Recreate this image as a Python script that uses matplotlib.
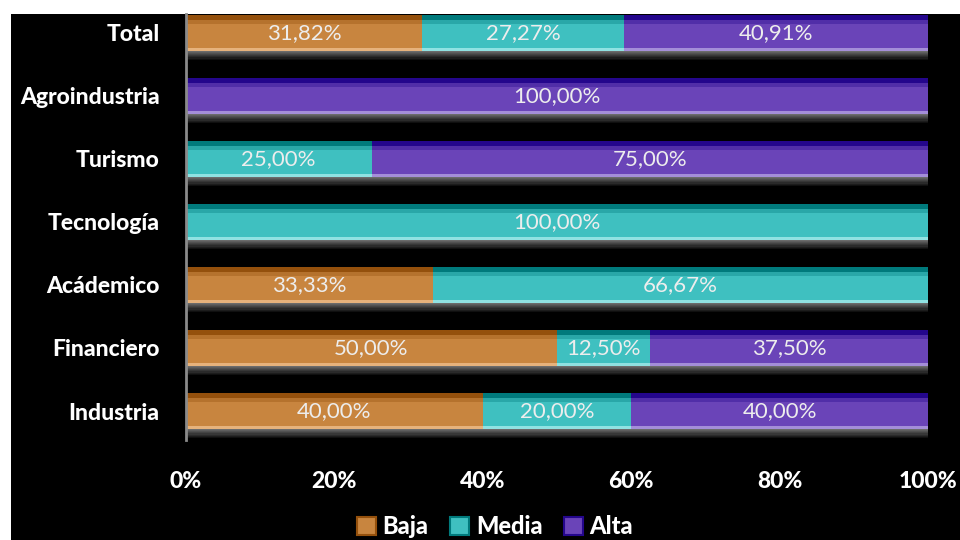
import matplotlib
matplotlib.use("Agg")
import matplotlib.pyplot as plt
from matplotlib.patches import Rectangle
import numpy as np

# Data: share (%) of each priority level per sector
categories = ["Industria", "Financiero", "Acádemico", "Tecnología", "Turismo", "Agroindustria", "Total"]
baja = [40.00, 50.00, 33.33, 0.0, 0.0, 0.0, 31.82]
media = [20.00, 12.50, 66.67, 100.00, 25.00, 0.0, 27.27]
alta = [40.00, 37.50, 0.0, 0.0, 75.00, 100.00, 40.91]
series_names = ["Baja", "Media", "Alta"]
tick_labels = ["0%", "20%", "40%", "60%", "80%", "100%"]

face = ["#C8853F", "#3FC0C0", "#6A44B8"]
top_dark = ["#94500C", "#007A7C", "#24068C"]
bottom_light = ["#E6B27C", "#90E2E2", "#A48ED8"]

plt.rcParams["font.family"] = ["Lato", "DejaVu Sans"]

W, H = 960, 540
fig = plt.figure(figsize=(W / 100, H / 100), dpi=100, facecolor="white")

# black chart area
bg = fig.add_axes([11 / W, 0, 1 - 11 / W, (H - 14) / H])
bg.set_facecolor("black")
bg.set_xticks([]); bg.set_yticks([])
for s in bg.spines.values():
    s.set_visible(False)

ax = fig.add_axes([186 / W, (H - 440) / H, (928 - 186) / W, 426 / H])
ax.set_facecolor("none")
ax.set_xlim(0, 100)
ax.set_ylim(-0.46, 6.30)

y = np.arange(len(categories))
bh = 0.57
series = [baja, media, alta]
lefts = np.zeros(len(categories))

# soft shadow under every row
totals = np.sum(series, axis=0)
shades = np.linspace(0.42, 0.06, 8)
for k, g in enumerate(shades):
    ax.barh(y - bh / 2 - 0.012 - k * 0.017, totals + 0.35, height=0.018, left=0,
            color=(g, g, g), zorder=1, linewidth=0)

for i, vals in enumerate(series):
    vals = np.array(vals)
    mask = vals > 0
    ax.barh(y[mask], vals[mask], left=lefts[mask], height=bh, color=face[i], zorder=2)
    # bevel: dark upper strip, light lower strip
    ax.barh(y[mask] + bh / 2 - 0.04, vals[mask], left=lefts[mask], height=0.08,
            color=top_dark[i], zorder=3, linewidth=0)
    ax.barh(y[mask] + bh / 2 - 0.11, vals[mask], left=lefts[mask], height=0.06,
            color=top_dark[i], alpha=0.35, zorder=3, linewidth=0)
    ax.barh(y[mask] - bh / 2 + 0.025, vals[mask], left=lefts[mask], height=0.05,
            color=bottom_light[i], zorder=3, linewidth=0)
    for yy, l, v in zip(y[mask], lefts[mask], vals[mask]):
        ax.text(l + v / 2, yy, f"{v:.2f}".replace(".", ",") + "%",
                ha="center", va="center", color="#EDEDED", fontsize=16, zorder=5)
    lefts = lefts + vals

ax.set_yticks(y)
ax.set_yticklabels(categories, color="white", fontsize=16.5, fontweight="black")
ax.set_xticks(np.linspace(0, 100, 6))
ax.set_xticklabels(tick_labels, color="white", fontsize=16.5, fontweight="black")
ax.tick_params(axis="both", length=0)
ax.tick_params(axis="y", pad=19)
ax.tick_params(axis="x", pad=22)
for side in ["top", "right", "bottom"]:
    ax.spines[side].set_visible(False)
ax.spines["left"].set_color("#8a8a8a")
ax.spines["left"].set_linewidth(2)
ax.spines["left"].set_zorder(6)

handles = [Rectangle((0, 0), 1, 1, facecolor=face[i], edgecolor=top_dark[i], linewidth=1.5)
           for i in range(3)]
leg = fig.legend(handles, series_names, loc="center", bbox_to_anchor=(495 / W, 13 / H),
                 ncol=3, frameon=False, handlelength=0.8, handleheight=0.8,
                 handletextpad=0.3, columnspacing=0.9, borderpad=0.1,
                 prop={"family": ["Lato", "DejaVu Sans"], "size": 17, "weight": "black"})
for t in leg.get_texts():
    t.set_color("white")

fig.savefig("out.png", dpi=100, facecolor=fig.get_facecolor())
